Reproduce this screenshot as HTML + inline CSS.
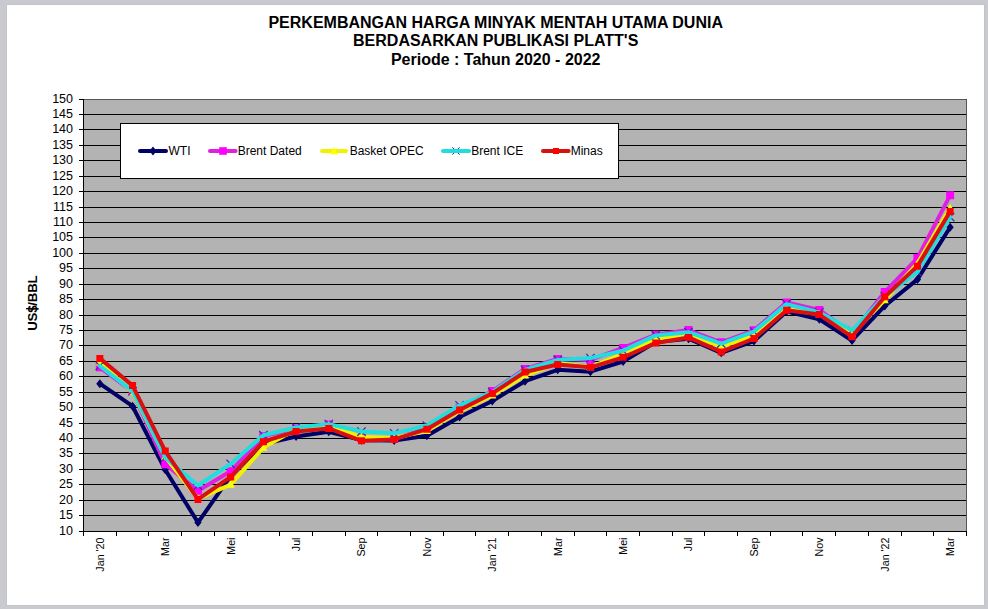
<!DOCTYPE html><html><head><meta charset="utf-8"><style>html,body{margin:0;padding:0;width:988px;height:609px;overflow:hidden;background:#c8cad0;}svg{display:block;}</style></head><body>
<svg width="988" height="609" viewBox="0 0 988 609">
<rect x="0" y="0" width="988" height="609" fill="#c8cad0"/>
<rect x="6" y="4" width="979" height="602" fill="#c4c4c4"/>
<rect x="7" y="5" width="977" height="600" fill="#ffffff"/>
<g font-family="'Liberation Sans', sans-serif" font-weight="bold" font-size="16" fill="#000" text-anchor="middle">
<text x="495.7" y="27.8">PERKEMBANGAN HARGA MINYAK MENTAH UTAMA DUNIA</text>
<text x="495.7" y="45.9">BERDASARKAN PUBLIKASI PLATT'S</text>
<text x="495.7" y="64.8">Periode :  Tahun 2020 - 2022</text>
</g>
<rect x="84" y="100" width="882" height="431" fill="#b3b3b3"/>
<path d="M83.5,515.5H966.5M83.5,500.5H966.5M83.5,484.5H966.5M83.5,469.5H966.5M83.5,453.5H966.5M83.5,438.5H966.5M83.5,423.5H966.5M83.5,407.5H966.5M83.5,392.5H966.5M83.5,376.5H966.5M83.5,361.5H966.5M83.5,345.5H966.5M83.5,330.5H966.5M83.5,315.5H966.5M83.5,299.5H966.5M83.5,284.5H966.5M83.5,268.5H966.5M83.5,253.5H966.5M83.5,237.5H966.5M83.5,222.5H966.5M83.5,207.5H966.5M83.5,191.5H966.5M83.5,176.5H966.5M83.5,160.5H966.5M83.5,145.5H966.5M83.5,129.5H966.5M83.5,114.5H966.5" stroke="#000000" stroke-width="1" fill="none" shape-rendering="crispEdges"/>
<path d="M83.5,99.5H966.5V531.5" stroke="#555555" stroke-width="1" fill="none" shape-rendering="crispEdges"/>
<path d="M83.5,99.5V531.5H966.5M79,531.5H84M79,515.5H84M79,500.5H84M79,484.5H84M79,469.5H84M79,453.5H84M79,438.5H84M79,423.5H84M79,407.5H84M79,392.5H84M79,376.5H84M79,361.5H84M79,345.5H84M79,330.5H84M79,315.5H84M79,299.5H84M79,284.5H84M79,268.5H84M79,253.5H84M79,237.5H84M79,222.5H84M79,207.5H84M79,191.5H84M79,176.5H84M79,160.5H84M79,145.5H84M79,129.5H84M79,114.5H84M79,99.5H84M83.5,531V536M116.5,531V536M148.5,531V536M181.5,531V536M214.5,531V536M247.5,531V536M279.5,531V536M312.5,531V536M345.5,531V536M377.5,531V536M410.5,531V536M443.5,531V536M475.5,531V536M508.5,531V536M541.5,531V536M574.5,531V536M606.5,531V536M639.5,531V536M672.5,531V536M704.5,531V536M737.5,531V536M770.5,531V536M802.5,531V536M835.5,531V536M868.5,531V536M901.5,531V536M933.5,531V536M966.5,531V536" stroke="#000" stroke-width="1" fill="none" shape-rendering="crispEdges"/>
<g font-family="'Liberation Sans', sans-serif" font-size="12.5" fill="#000" text-anchor="end">
<text x="73" y="535.3">10</text>
<text x="73" y="519.3">15</text>
<text x="73" y="504.3">20</text>
<text x="73" y="488.3">25</text>
<text x="73" y="473.3">30</text>
<text x="73" y="457.3">35</text>
<text x="73" y="442.3">40</text>
<text x="73" y="427.3">45</text>
<text x="73" y="411.3">50</text>
<text x="73" y="396.3">55</text>
<text x="73" y="380.3">60</text>
<text x="73" y="365.3">65</text>
<text x="73" y="349.3">70</text>
<text x="73" y="334.3">75</text>
<text x="73" y="319.3">80</text>
<text x="73" y="303.3">85</text>
<text x="73" y="288.3">90</text>
<text x="73" y="272.3">95</text>
<text x="73" y="257.3">100</text>
<text x="73" y="241.3">105</text>
<text x="73" y="226.3">110</text>
<text x="73" y="211.3">115</text>
<text x="73" y="195.3">120</text>
<text x="73" y="180.3">125</text>
<text x="73" y="164.3">130</text>
<text x="73" y="149.3">135</text>
<text x="73" y="133.3">140</text>
<text x="73" y="118.3">145</text>
<text x="73" y="103.3">150</text>
</g>
<text font-family="'Liberation Sans', sans-serif" font-weight="bold" font-size="13.3" letter-spacing="-0.25" fill="#000" text-anchor="middle" transform="translate(37,303.2) rotate(-90)">US$/BBL</text>
<path d="M26,308.7H38.5" stroke="#000" stroke-width="1.3"/>
<g font-family="'Liberation Sans', sans-serif" font-size="10.7" fill="#000" text-anchor="end">
<text transform="translate(103.75,537.5) rotate(-90)">Jan &#39;20</text>
<text transform="translate(169.16,537.5) rotate(-90)">Mar</text>
<text transform="translate(234.57,537.5) rotate(-90)">Mei</text>
<text transform="translate(299.97,537.5) rotate(-90)">Jul</text>
<text transform="translate(365.38,537.5) rotate(-90)">Sep</text>
<text transform="translate(430.79,537.5) rotate(-90)">Nov</text>
<text transform="translate(496.20,537.5) rotate(-90)">Jan &#39;21</text>
<text transform="translate(561.60,537.5) rotate(-90)">Mar</text>
<text transform="translate(627.01,537.5) rotate(-90)">Mei</text>
<text transform="translate(692.42,537.5) rotate(-90)">Jul</text>
<text transform="translate(757.83,537.5) rotate(-90)">Sep</text>
<text transform="translate(823.23,537.5) rotate(-90)">Nov</text>
<text transform="translate(888.64,537.5) rotate(-90)">Jan &#39;22</text>
<text transform="translate(954.05,537.5) rotate(-90)">Mar</text>
</g>
<polyline points="99.85,383.69 132.56,406.22 165.26,469.79 197.96,522.55 230.67,475.96 263.37,444.17 296.07,436.46 328.78,431.83 361.48,440.16 394.19,440.47 426.89,435.84 459.59,417.02 492.30,400.97 525.00,381.23 557.70,369.81 590.41,371.66 623.11,361.48 655.81,342.04 688.52,338.64 721.22,352.84 753.93,341.11 786.63,311.49 819.33,319.20 852.04,340.49 884.74,305.93 917.44,279.40 950.15,227.25" fill="none" stroke="#000066" stroke-width="4" stroke-linejoin="round" stroke-linecap="round"/><path d="M99.85,379.19L103.45,383.69L99.85,388.19L96.25,383.69ZM132.56,401.72L136.16,406.22L132.56,410.72L128.96,406.22ZM165.26,465.29L168.86,469.79L165.26,474.29L161.66,469.79ZM197.96,518.05L201.56,522.55L197.96,527.05L194.36,522.55ZM230.67,471.46L234.27,475.96L230.67,480.46L227.07,475.96ZM263.37,439.67L266.97,444.17L263.37,448.67L259.77,444.17ZM296.07,431.96L299.67,436.46L296.07,440.96L292.47,436.46ZM328.78,427.33L332.38,431.83L328.78,436.33L325.18,431.83ZM361.48,435.66L365.08,440.16L361.48,444.66L357.88,440.16ZM394.19,435.97L397.79,440.47L394.19,444.97L390.59,440.47ZM426.89,431.34L430.49,435.84L426.89,440.34L423.29,435.84ZM459.59,412.52L463.19,417.02L459.59,421.52L455.99,417.02ZM492.30,396.47L495.90,400.97L492.30,405.47L488.70,400.97ZM525.00,376.73L528.60,381.23L525.00,385.73L521.40,381.23ZM557.70,365.31L561.30,369.81L557.70,374.31L554.10,369.81ZM590.41,367.16L594.01,371.66L590.41,376.16L586.81,371.66ZM623.11,356.98L626.71,361.48L623.11,365.98L619.51,361.48ZM655.81,337.54L659.41,342.04L655.81,346.54L652.21,342.04ZM688.52,334.14L692.12,338.64L688.52,343.14L684.92,338.64ZM721.22,348.34L724.82,352.84L721.22,357.34L717.62,352.84ZM753.93,336.61L757.53,341.11L753.93,345.61L750.33,341.11ZM786.63,306.99L790.23,311.49L786.63,315.99L783.03,311.49ZM819.33,314.70L822.93,319.20L819.33,323.70L815.73,319.20ZM852.04,335.99L855.64,340.49L852.04,344.99L848.44,340.49ZM884.74,301.43L888.34,305.93L884.74,310.43L881.14,305.93ZM917.44,274.90L921.04,279.40L917.44,283.90L913.84,279.40ZM950.15,222.75L953.75,227.25L950.15,231.75L946.55,227.25Z" fill="#000066"/>
<polyline points="99.85,367.34 132.56,391.72 165.26,464.23 197.96,490.77 230.67,471.33 263.37,436.15 296.07,428.44 328.78,424.43 361.48,438.00 394.19,438.93 426.89,428.75 459.59,407.76 492.30,391.10 525.00,368.88 557.70,359.01 590.41,359.93 623.11,347.90 655.81,334.63 688.52,330.00 721.22,342.35 753.93,330.31 786.63,302.54 819.33,309.95 852.04,333.40 884.74,292.05 917.44,258.11 950.15,195.31" fill="none" stroke="#dd22dd" stroke-width="4" stroke-linejoin="round" stroke-linecap="round"/><path d="M95.85,363.34h8v8h-8ZM128.56,387.72h8v8h-8ZM161.26,460.23h8v8h-8ZM193.96,486.77h8v8h-8ZM226.67,467.33h8v8h-8ZM259.37,432.15h8v8h-8ZM292.07,424.44h8v8h-8ZM324.78,420.43h8v8h-8ZM357.48,434.00h8v8h-8ZM390.19,434.93h8v8h-8ZM422.89,424.75h8v8h-8ZM455.59,403.76h8v8h-8ZM488.30,387.10h8v8h-8ZM521.00,364.88h8v8h-8ZM553.70,355.01h8v8h-8ZM586.41,355.93h8v8h-8ZM619.11,343.90h8v8h-8ZM651.81,330.63h8v8h-8ZM684.52,326.00h8v8h-8ZM717.22,338.35h8v8h-8ZM749.93,326.31h8v8h-8ZM782.63,298.54h8v8h-8ZM815.33,305.95h8v8h-8ZM848.04,329.40h8v8h-8ZM880.74,288.05h8v8h-8ZM913.44,254.11h8v8h-8ZM946.15,191.31h8v8h-8Z" fill="#ff00ff"/>
<polyline points="99.85,362.40 132.56,392.33 165.26,456.83 197.96,498.79 230.67,484.60 263.37,447.57 296.07,429.36 328.78,425.04 361.48,437.08 394.19,438.00 426.89,430.91 459.59,411.16 492.30,395.42 525.00,375.36 557.70,363.33 590.41,367.03 623.11,353.76 655.81,338.80 688.52,334.94 721.22,346.67 753.93,335.87 786.63,309.33 819.33,314.27 852.04,332.78 884.74,300.07 917.44,263.35 950.15,208.12" fill="none" stroke="#f2f200" stroke-width="4" stroke-linejoin="round" stroke-linecap="round"/><path d="M99.85,358.40L103.85,365.60L95.85,365.60ZM132.56,388.33L136.56,395.53L128.56,395.53ZM165.26,452.83L169.26,460.03L161.26,460.03ZM197.96,494.79L201.96,501.99L193.96,501.99ZM230.67,480.60L234.67,487.80L226.67,487.80ZM263.37,443.57L267.37,450.77L259.37,450.77ZM296.07,425.36L300.07,432.56L292.07,432.56ZM328.78,421.04L332.78,428.24L324.78,428.24ZM361.48,433.08L365.48,440.28L357.48,440.28ZM394.19,434.00L398.19,441.20L390.19,441.20ZM426.89,426.91L430.89,434.11L422.89,434.11ZM459.59,407.16L463.59,414.36L455.59,414.36ZM492.30,391.42L496.30,398.62L488.30,398.62ZM525.00,371.36L529.00,378.56L521.00,378.56ZM557.70,359.33L561.70,366.53L553.70,366.53ZM590.41,363.03L594.41,370.23L586.41,370.23ZM623.11,349.76L627.11,356.96L619.11,356.96ZM655.81,334.80L659.81,342.00L651.81,342.00ZM688.52,330.94L692.52,338.14L684.52,338.14ZM721.22,342.67L725.22,349.87L717.22,349.87ZM753.93,331.87L757.93,339.07L749.93,339.07ZM786.63,305.33L790.63,312.53L782.63,312.53ZM819.33,310.27L823.33,317.47L815.33,317.47ZM852.04,328.78L856.04,335.98L848.04,335.98ZM884.74,296.07L888.74,303.27L880.74,303.27ZM917.44,259.35L921.44,266.55L913.44,266.55ZM950.15,204.12L954.15,211.32L946.15,211.32Z" fill="#ffff00"/>
<path d="M95.65,361.60L104.05,370.00M104.05,361.60L95.65,370.00M128.36,386.90L136.76,395.30M136.76,386.90L128.36,395.30M161.06,453.24L169.46,461.64M169.46,453.24L161.06,461.64M193.76,481.32L202.16,489.72M202.16,481.32L193.76,489.72M226.47,459.72L234.87,468.12M234.87,459.72L226.47,468.12M259.17,431.03L267.57,439.43M267.57,431.03L259.17,439.43M291.87,423.31L300.27,431.71M300.27,423.31L291.87,431.71M324.58,419.92L332.98,428.32M332.98,419.92L324.58,428.32M357.28,427.32L365.68,435.72M365.68,427.32L357.28,435.72M389.99,429.17L398.39,437.57M398.39,429.17L389.99,437.57M422.69,421.31L431.09,429.71M431.09,421.31L422.69,429.71M455.39,401.09L463.79,409.49M463.79,401.09L455.39,409.49M488.10,387.83L496.50,396.23M496.50,387.83L488.10,396.23M520.80,365.61L529.20,374.01M529.20,365.61L520.80,374.01M553.50,355.73L561.90,364.13M561.90,355.73L553.50,364.13M586.21,353.88L594.61,362.28M594.61,353.88L586.21,362.28M618.91,346.48L627.31,354.88M627.31,346.48L618.91,354.88M651.61,331.20L660.01,339.60M660.01,331.20L651.61,339.60M684.32,327.96L692.72,336.36M692.72,327.96L684.32,336.36M717.02,339.38L725.42,347.78M725.42,339.38L717.02,347.78M749.73,327.35L758.13,335.75M758.13,327.35L749.73,335.75M782.43,299.88L790.83,308.28M790.83,299.88L782.43,308.28M815.13,308.21L823.53,316.61M823.53,308.21L815.13,316.61M847.84,326.11L856.24,334.51M856.24,326.11L847.84,334.51M880.54,291.86L888.94,300.26M888.94,291.86L880.54,300.26M913.24,267.79L921.64,276.19M921.64,267.79L913.24,276.19M945.95,212.87L954.35,221.27M954.35,212.87L945.95,221.27" stroke="#3030b0" stroke-width="1.2" fill="none"/><polyline points="99.85,365.80 132.56,391.10 165.26,457.44 197.96,485.52 230.67,463.92 263.37,435.23 296.07,427.51 328.78,424.12 361.48,431.52 394.19,433.37 426.89,425.51 459.59,405.29 492.30,392.03 525.00,369.81 557.70,359.93 590.41,358.08 623.11,350.68 655.81,335.40 688.52,332.16 721.22,343.58 753.93,331.55 786.63,304.08 819.33,312.41 852.04,330.31 884.74,296.06 917.44,271.99 950.15,217.07" fill="none" stroke="#22dddd" stroke-width="4" stroke-linejoin="round" stroke-linecap="round"/>
<polyline points="99.85,358.39 132.56,385.55 165.26,451.12 197.96,499.41 230.67,476.88 263.37,441.71 296.07,431.52 328.78,428.44 361.48,440.78 394.19,439.39 426.89,429.21 459.59,409.92 492.30,393.41 525.00,371.97 557.70,364.56 590.41,367.34 623.11,357.31 655.81,342.96 688.52,337.41 721.22,351.91 753.93,338.49 786.63,310.25 819.33,314.57 852.04,336.79 884.74,296.68 917.44,266.13 950.15,211.51" fill="none" stroke="#d81010" stroke-width="4" stroke-linejoin="round" stroke-linecap="round"/><path d="M96.35,354.89h7.0v7.0h-7.0ZM129.06,382.05h7.0v7.0h-7.0ZM161.76,447.62h7.0v7.0h-7.0ZM194.46,495.91h7.0v7.0h-7.0ZM227.17,473.38h7.0v7.0h-7.0ZM259.87,438.21h7.0v7.0h-7.0ZM292.57,428.02h7.0v7.0h-7.0ZM325.28,424.94h7.0v7.0h-7.0ZM357.98,437.28h7.0v7.0h-7.0ZM390.69,435.89h7.0v7.0h-7.0ZM423.39,425.71h7.0v7.0h-7.0ZM456.09,406.42h7.0v7.0h-7.0ZM488.80,389.91h7.0v7.0h-7.0ZM521.50,368.47h7.0v7.0h-7.0ZM554.20,361.06h7.0v7.0h-7.0ZM586.91,363.84h7.0v7.0h-7.0ZM619.61,353.81h7.0v7.0h-7.0ZM652.31,339.46h7.0v7.0h-7.0ZM685.02,333.91h7.0v7.0h-7.0ZM717.72,348.41h7.0v7.0h-7.0ZM750.43,334.99h7.0v7.0h-7.0ZM783.13,306.75h7.0v7.0h-7.0ZM815.83,311.07h7.0v7.0h-7.0ZM848.54,333.29h7.0v7.0h-7.0ZM881.24,293.18h7.0v7.0h-7.0ZM913.94,262.63h7.0v7.0h-7.0ZM946.65,208.01h7.0v7.0h-7.0Z" fill="#ff0000"/>
<rect x="120.5" y="123.5" width="498" height="55" fill="#fff" stroke="#000" stroke-width="1" shape-rendering="crispEdges"/>
<path d="M140,151H166" stroke="#000066" stroke-width="4" stroke-linecap="round"/>
<path d="M153.00,146.50L156.60,151.00L153.00,155.50L149.40,151.00Z" fill="#000066"/>
<text font-family="'Liberation Sans', sans-serif" font-size="12" fill="#000" x="168.5" y="155">WTI</text>
<path d="M210,151H235.6" stroke="#dd22dd" stroke-width="4" stroke-linecap="round"/>
<path d="M219.20,147.20h7.6v7.6h-7.6Z" fill="#ff00ff"/>
<text font-family="'Liberation Sans', sans-serif" font-size="12" fill="#000" x="237.7" y="155">Brent Dated</text>
<path d="M322,151H346" stroke="#f2f200" stroke-width="4" stroke-linecap="round"/>
<path d="M334.00,147.00L338.00,154.20L330.00,154.20Z" fill="#ffff00"/>
<text font-family="'Liberation Sans', sans-serif" font-size="12" fill="#000" x="349.7" y="155">Basket OPEC</text>
<path d="M452.30,147.30L459.70,154.70M459.70,147.30L452.30,154.70" stroke="#3030b0" stroke-width="1" fill="none"/>
<path d="M443,151H469" stroke="#22dddd" stroke-width="4" stroke-linecap="round"/>
<text font-family="'Liberation Sans', sans-serif" font-size="12" fill="#000" x="471.2" y="155">Brent ICE</text>
<path d="M543,151H568.6" stroke="#d81010" stroke-width="4" stroke-linecap="round"/>
<path d="M553.00,148.00h6v6h-6Z" fill="#ff0000"/>
<text font-family="'Liberation Sans', sans-serif" font-size="12" fill="#000" x="570.7" y="155">Minas</text>
</svg></body></html>
